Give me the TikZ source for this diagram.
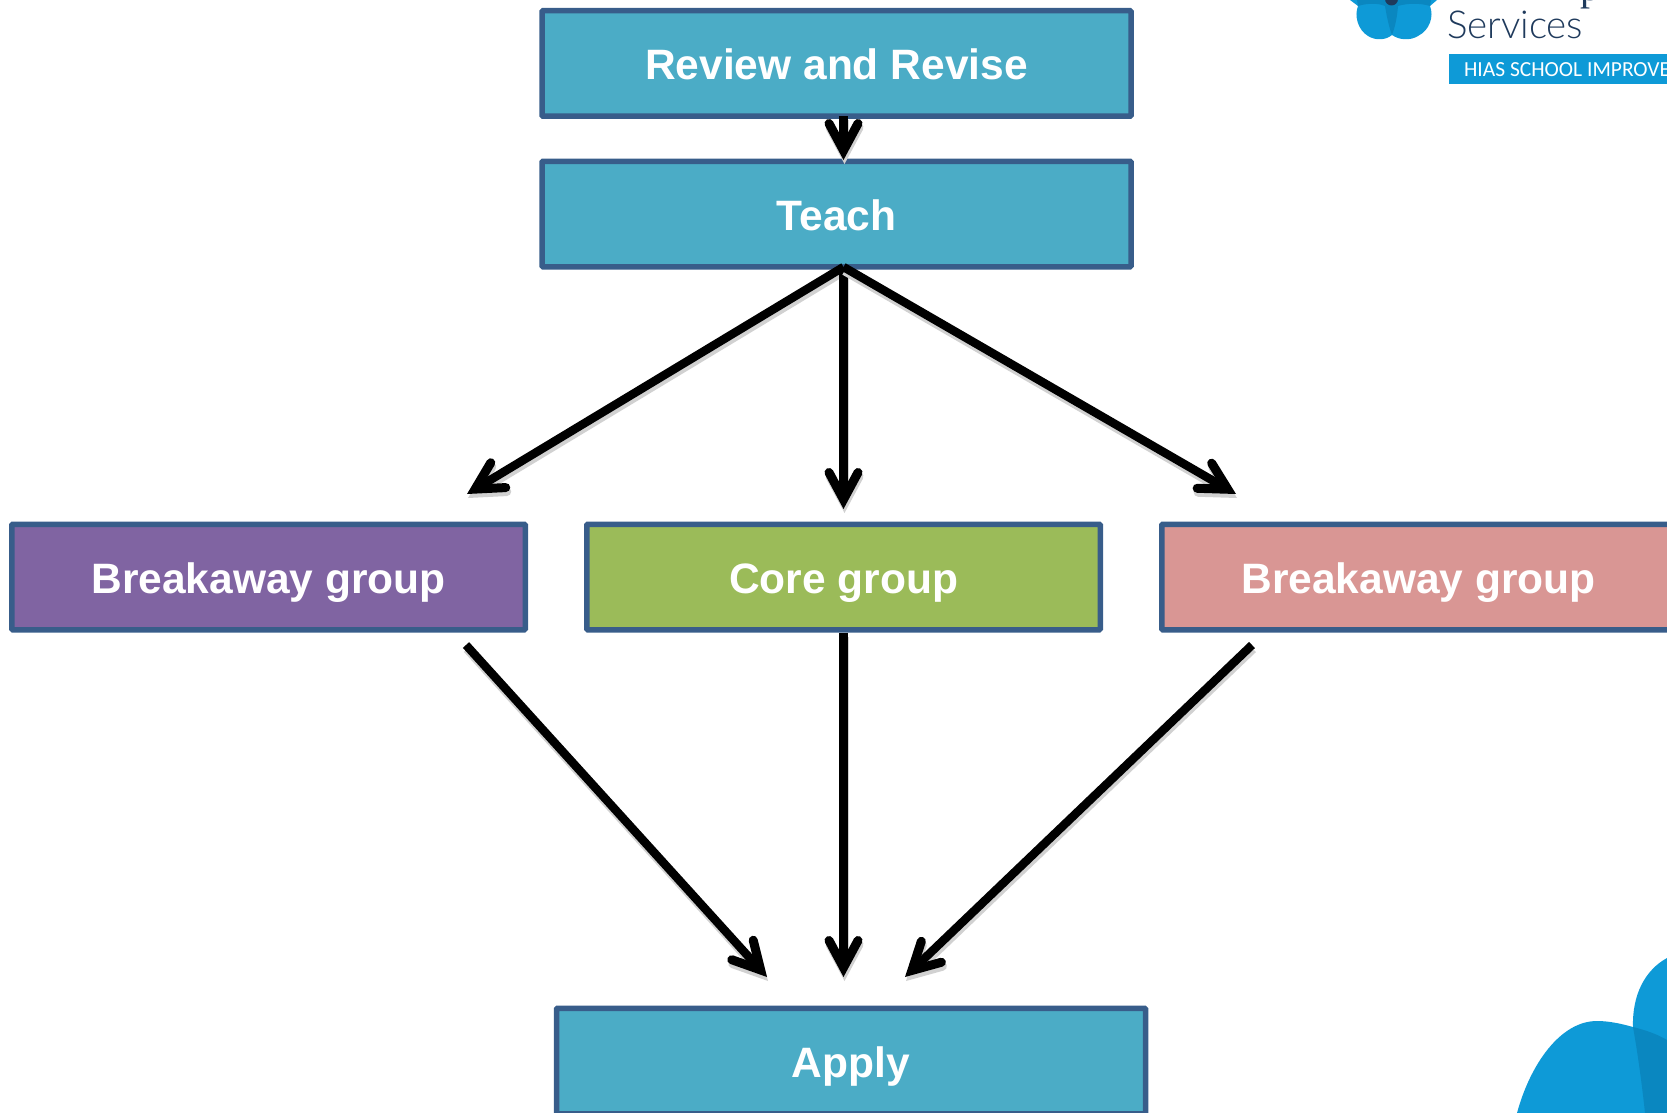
\documentclass[tikz,border=0pt]{standalone}
\usepackage{fontspec}
\setmainfont{Liberation Sans}
\newfontfamily\logofont{Lato Light}
\newfontfamily\logoserif{Liberation Serif}
\newfontfamily\logobar{Carlito}
\usetikzlibrary{arrows.meta}
\definecolor{tealfill}{HTML}{4BACC6}
\definecolor{purplefill}{HTML}{8064A2}
\definecolor{greenfill}{HTML}{9BBB59}
\definecolor{pinkfill}{HTML}{D99694}
\definecolor{boxline}{HTML}{385D8A}
\definecolor{logoblue}{HTML}{0E9AD7}
\definecolor{logodark}{HTML}{0A87C0}
\definecolor{logotext}{HTML}{1F3A5C}
\tikzset{
	groupbox/.style={draw=boxline, line width=5.5pt, rounded corners=1pt, minimum width=513.5pt, minimum height=105.5pt, inner sep=0pt,
		text=white, text height=32.4pt, text depth=0pt, font=\fontsize{42.5}{50}\selectfont\bfseries},
	stagebox/.style={groupbox, fill=tealfill, minimum width=589pt},
	logotag/.style={inner sep=0pt, outer sep=0pt}
}
\begin{document}
\begin{tikzpicture}[x=1pt,y=-1pt,->,>={Straight Barb[length=27pt,width=29pt,line width=9pt,line cap=round,line join=miter]},line width=8.5pt,node distance=575pt,
	every edge/.append style={preaction={draw=black!18, transform canvas={shift={(1pt,-4pt)}}}}]
	\clip (0,0) rectangle (1667,1113);

	% logo, top right
	\fill[logoblue] (1392,35) .. controls (1386,40) and (1376,41) .. (1368,36) .. controls (1358,30) and (1354,16) .. (1358,6) -- (1350,0) -- (1437,0) -- (1430,6) .. controls (1434,16) and (1430,30) .. (1418,36) .. controls (1410,41) and (1399,40) .. (1392,35) -- cycle;
	\fill[logodark] (1385,0) -- (1385,6) .. controls (1387,18) and (1389,27) .. (1392,35) .. controls (1395,27) and (1397,18) .. (1398,6) -- (1398,0) -- cycle;
	\fill[logodark] (1357,0) -- (1358,6) .. controls (1368,3) and (1378,3) .. (1385,6) -- (1398,6) .. controls (1408,3) and (1420,3) .. (1430,6) -- (1431,0) -- cycle;
	\fill[logotext] (1391.5,-1) circle (6.5);
	\node[logotag, text=logotext, font=\logofont\fontsize{38.5}{40}\selectfont, anchor=base west] (services) at (1447,39) {Services};
	\node[logotag, text=logotext, font=\logoserif\fontsize{40}{40}\selectfont, anchor=base] (logop) at (1590,1) {p};
	\node[logotag, fill=logoblue, anchor=north west, minimum width=218pt, minimum height=30pt] (hias) at (1449,54) {};
	\node[logotag, text=white, font=\logobar\fontsize{21.5}{22}\selectfont, anchor=west] (hiastext) at (1464,70) {HIAS SCHOOL IMPROVE};

	% logo, bottom right
	\fill[logoblue] (1517,1113) .. controls (1530,1065) and (1560,1021) .. (1597,1021) .. controls (1610,1021) and (1622,1024) .. (1633,1027) .. controls (1632,995) and (1645,970) .. (1667,958) -- (1667,1113) -- cycle;
	\fill[logodark] (1633,1027) .. controls (1645,1030) and (1657,1034) .. (1667,1040) -- (1667,1113) -- (1645,1113) .. controls (1642,1085) and (1638,1055) .. (1633,1027) -- cycle;

	\node[stagebox] (review) at (836.5,63.5) {Review and Revise};
	\node[stagebox] (teach) [below of = review, node distance=150.5pt] {Teach};
	\node[groupbox, fill=greenfill] (core) at (843.5,577) {Core group};
	\node[groupbox, fill=purplefill] (left) [left of = core] {Breakaway group};
	\node[groupbox, fill=pinkfill] (right) [right of = core] {Breakaway group};
	\node[stagebox] (apply) at (851,1061) {Apply};

	\coordinate (reviewout) at (843.5,116);
	\coordinate (teachin) at (843.5,160);
	\coordinate (teachout) at (843.5,267);
	\coordinate (leftin) at (467,494);
	\coordinate (corein) at (843.5,509);
	\coordinate (rightin) at (1236,494);
	\coordinate (leftout) at (466,645);
	\coordinate (coreout) at (843.5,633);
	\coordinate (rightout) at (1252,645);
	\coordinate (applyleft) at (767,977);
	\coordinate (applycore) at (843.5,977);
	\coordinate (applyright) at (905,977);

	\path
	(reviewout) edge (teachin)
	(teachout) edge (leftin)
	           edge (corein)
	           edge (rightin)
	(leftout) edge (applyleft)
	(coreout) edge (applycore)
	(rightout) edge (applyright)
	;
\end{tikzpicture}
\end{document}
